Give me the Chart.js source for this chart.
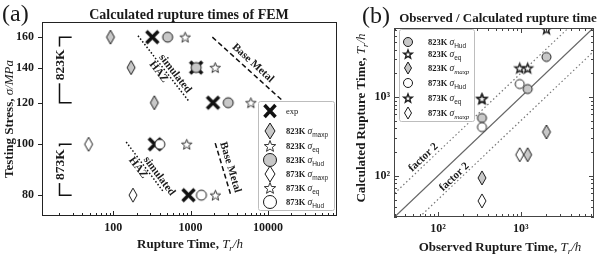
<!DOCTYPE html>
<html>
<head>
<meta charset="utf-8">
<script src="https://cdn.jsdelivr.net/npm/chart.js@4.4.0/dist/chart.umd.min.js"></script>
<style>
  body { margin: 0; background: #fff; width: 601px; height: 256px; position: relative; overflow: hidden; }
  canvas { position: absolute; top: 0; }
  #chart-a { left: 0; }
  #chart-b { left: 345px; }
</style>
</head>
<body>
<canvas id="chart-a" width="345" height="256"></canvas>
<canvas id="chart-b" width="256" height="256"></canvas>
<script>
// ---- panel (a): rupture time vs testing stress ----
var stress823 = [160, 140, 120];
var stress873 = [100, 80];
var exp823 = [320, 1180, 1950];
var exp873 = [345, 940];
var maxp823 = [92, 170, 340];
var eq823 = [850, 2080, 6000];
var hud823 = [505, 1180, 3060];
var maxp873 = [48, 180];
var eq873 = [890, 2090];
var hud873 = [400, 1380];

var stressTicks = [80, 100, 120, 140, 160];
var timeLabelsA = [100, 1000, 10000];

// ---- panel (b): observed vs calculated ----
var obs823 = [340, 1210, 2040];
var obs873 = [340, 970];
var calcHud823 = [540, 1260, 3220];
var calcEq823 = [950, 2330, 7300];
var calcMaxp823 = [94, 185, 360];
var calcHud873 = [415, 1460];
var calcEq873 = [950, 2330];
var calcMaxp873 = [48, 185];

var timeLabelsB = [100, 1000];

function decadeTicks(from, to) {
  var out = [];
  for (var d = 1; d <= 100000; d *= 10) {
    for (var k = 1; k < 10; k++) {
      var v = k * d;
      if (v >= from && v <= to) out.push(v);
    }
  }
  return out;
}
var timeTicksA = decadeTicks(20, 70000);
var timeTicksB = decadeTicks(30, 7000);

var SERIF = "'Liberation Serif', 'Times New Roman', serif";
var SANS = "'Liberation Sans', Arial, sans-serif";
var ink = '#1a1a1a';
var gray = '#c8c8c8';

function drawMarker(ctx, kind, x, y, w, h, fill, stroke, lw) {
  ctx.save();
  ctx.beginPath();
  if (kind === 'circle') {
    ctx.ellipse(x, y, w / 2, h / 2, 0, 0, Math.PI * 2);
  } else if (kind === 'diamond') {
    ctx.moveTo(x, y - h / 2); ctx.lineTo(x + w / 2, y);
    ctx.lineTo(x, y + h / 2); ctx.lineTo(x - w / 2, y); ctx.closePath();
  } else if (kind === 'star') {
    for (var i = 0; i < 10; i++) {
      var r = i % 2 ? w / 2 * 0.42 : w / 2;
      var an = -Math.PI / 2 + i * Math.PI / 5;
      ctx.lineTo(x + r * Math.cos(an), y + 0.5 + r * Math.sin(an));
    }
    ctx.closePath();
  } else if (kind === 'cross') {
    ctx.moveTo(x - w / 2, y - h / 2); ctx.lineTo(x + w / 2, y + h / 2);
    ctx.moveTo(x + w / 2, y - h / 2); ctx.lineTo(x - w / 2, y + h / 2);
  }
  if (fill) { ctx.fillStyle = fill; ctx.fill(); }
  ctx.strokeStyle = stroke; ctx.lineWidth = lw; ctx.stroke();
  ctx.restore();
}

function markerImg(kind, w, h, fill, stroke, lw) {
  var c = document.createElement('canvas');
  c.width = Math.ceil(w + lw * 2 + 2);
  c.height = Math.ceil(h + lw * 2 + 2);
  drawMarker(c.getContext('2d'), kind, c.width / 2, c.height / 2, w, h, fill, stroke, lw);
  return c;
}

function pts(xs, ys) {
  return xs.map(function(x, i) { return { x: x, y: ys[i] }; });
}

function marks(data, img, order) {
  return { data: data, pointStyle: img, pointRadius: 6, showLine: false, order: order };
}

function guide(p0, p1, dash, color, w) {
  return { data: [p0, p1], showLine: true, pointRadius: 0, borderColor: color,
           borderWidth: w, borderDash: dash, fill: false, order: 10 };
}

function rich(ctx, parts, x, y, rot) {
  ctx.save();
  ctx.translate(x, y);
  ctx.rotate(rot || 0);
  ctx.textBaseline = 'alphabetic';
  ctx.textAlign = 'left';
  var total = 0;
  parts.forEach(function(p) { ctx.font = p[1]; total += ctx.measureText(p[0]).width; });
  var cx = -total / 2;
  parts.forEach(function(p) {
    ctx.font = p[1];
    ctx.fillStyle = ink;
    ctx.fillText(p[0], cx, p[2] || 0);
    cx += ctx.measureText(p[0]).width;
  });
  ctx.restore();
}

function richLeft(ctx, parts, x, y) {
  var cx = x;
  ctx.textBaseline = 'alphabetic';
  ctx.textAlign = 'left';
  parts.forEach(function(p) {
    ctx.font = p[1];
    ctx.fillStyle = ink;
    ctx.fillText(p[0], cx, y + (p[2] || 0));
    cx += ctx.measureText(p[0]).width;
  });
}

function line(ctx, x0, y0, x1, y1) {
  ctx.beginPath(); ctx.moveTo(x0, y0); ctx.lineTo(x1, y1); ctx.stroke();
}

// text placed along a guide line given in data coordinates
function lineLabel(chart, p0, p1, t, off, text, font) {
  var sx = chart.scales.x, sy = chart.scales.y, ctx = chart.ctx;
  var x0 = sx.getPixelForValue(p0.x), y0 = sy.getPixelForValue(p0.y);
  var x1 = sx.getPixelForValue(p1.x), y1 = sy.getPixelForValue(p1.y);
  var dx = x1 - x0, dy = y1 - y0, len = Math.sqrt(dx * dx + dy * dy);
  var nx = dy / len, ny = -dx / len;
  var cx = x0 + dx * t + nx * off, cy = y0 + dy * t + ny * off;
  ctx.save();
  ctx.translate(cx, cy);
  ctx.rotate(Math.atan2(dy, dx));
  ctx.font = font;
  ctx.fillStyle = ink;
  ctx.textAlign = 'center';
  ctx.textBaseline = 'middle';
  ctx.fillText(text, 0, 0);
  ctx.restore();
}

function legendBox(ctx, x0, y0, x1, y1, rows, mx, tx) {
  ctx.save();
  ctx.fillStyle = '#fff';
  ctx.strokeStyle = '#bdbdbd';
  ctx.lineWidth = 1;
  ctx.beginPath();
  ctx.roundRect(x0 + 0.5, y0 + 0.5, x1 - x0, y1 - y0, 2);
  ctx.fill(); ctx.stroke();
  rows.forEach(function(r) {
    drawMarker(ctx, r.kind, mx, r.y, r.w, r.h, r.fill, r.stroke, r.lw);
    richLeft(ctx, r.parts, tx, r.y + 3);
  });
  ctx.restore();
}

function legendText(temp, sub, subItalic) {
  return [[temp + ' ', 'bold 8.5px ' + SERIF], ['σ', 'italic 9.5px ' + SERIF],
          [sub, (subItalic ? 'italic 7px ' + SERIF : '6.5px ' + SANS), 2.5]];
}

// ---- guide lines for panel (a) ----
var hazTop = [{ x: 209, y: 161 }, { x: 940, y: 121 }];
var hazLow = [{ x: 147, y: 101 }, { x: 450, y: 81 }];
var baseTop = [{ x: 1910, y: 160 }, { x: 15500, y: 121 }];
var baseLow = [{ x: 2080, y: 100.5 }, { x: 3270, y: 80.5 }];
var brackets = [{ t: '823K', hi: 160, lo: 120 }, { t: '873K', hi: 100, lo: 80 }];
var bracketX = 20, bracketTip = 29;

var mA = {
  cross: markerImg('cross', 12, 12, null, '#111', 3.5),
  dia823: markerImg('diamond', 8, 14, gray, ink, 1),
  dia873: markerImg('diamond', 8, 14, '#fff', ink, 1),
  star: markerImg('star', 11, 11, '#fff', '#333', 1),
  circ823: markerImg('circle', 10, 10, gray, ink, 1),
  circ873: markerImg('circle', 10, 10, '#fff', ink, 1)
};

var annotateA = {
  id: 'annotateA',
  afterDraw: function(chart) {
    var ctx = chart.ctx, a = chart.chartArea, sx = chart.scales.x, sy = chart.scales.y;
    ctx.save();
    ctx.strokeStyle = '#222';
    ctx.lineWidth = 1;
    ctx.strokeRect(Math.round(a.left) + 0.5, Math.round(a.top) + 0.5,
                   Math.round(a.right - a.left) - 1, Math.round(a.bottom - a.top) - 1);
    timeTicksA.forEach(function(v) {
      var px = Math.round(sx.getPixelForValue(v)) + 0.5;
      var len = timeLabelsA.indexOf(v) >= 0 ? 5 : 3;
      line(ctx, px, a.bottom, px, a.bottom - len);
    });
    stressTicks.forEach(function(v) {
      var py = Math.round(sy.getPixelForValue(v)) + 0.5;
      line(ctx, a.left, py, a.left - 4, py);
    });

    // temperature brackets
    brackets.forEach(function(b) {
      var x0 = Math.round(sx.getPixelForValue(bracketX)) + 0.5;
      var x1 = sx.getPixelForValue(bracketTip);
      var yt = sy.getPixelForValue(b.hi), yb = sy.getPixelForValue(b.lo);
      ctx.strokeStyle = '#111';
      ctx.lineWidth = 1.5;
      ctx.beginPath();
      ctx.moveTo(x1, yt); ctx.lineTo(x0, yt); ctx.lineTo(x0, yb); ctx.lineTo(x1, yb);
      ctx.stroke();
      var ym = (yt + yb) / 2 - 5;
      ctx.font = 'bold 13.5px ' + SERIF;
      var w = ctx.measureText(b.t).width;
      ctx.fillStyle = '#fff';
      ctx.fillRect(x0 - 7, ym - w / 2 - 3, 14, w + 6);
      rich(ctx, [[b.t, 'bold 13.5px ' + SERIF]], x0 + 4.5, ym, -Math.PI / 2);
    });

    var f = 'bold 11px ' + SERIF;
    lineLabel(chart, hazTop[0], hazTop[1], 0.64, 6, 'simulated', f);
    lineLabel(chart, hazTop[0], hazTop[1], 0.5, -6, 'HAZ', f);
    lineLabel(chart, hazLow[0], hazLow[1], 0.75, 6, 'simulated', f);
    lineLabel(chart, hazLow[0], hazLow[1], 0.44, -6, 'HAZ', f);
    lineLabel(chart, baseTop[0], baseTop[1], 0.5, 8, 'Base Metal', f);
    lineLabel(chart, baseLow[0], baseLow[1], 0.52, 7.5, 'Base Metal', f);

    legendBox(ctx, 258, 101, 334, 210, [
      { kind: 'cross', w: 11, h: 12, fill: null, stroke: '#111', lw: 3.5, y: 111, parts: [['exp', '8.5px ' + SERIF]] },
      { kind: 'diamond', w: 10, h: 16, fill: gray, stroke: ink, lw: 1, y: 131, parts: legendText('823K', 'maxp') },
      { kind: 'star', w: 12, h: 12, fill: '#fff', stroke: '#333', lw: 1, y: 146, parts: legendText('823K', 'eq') },
      { kind: 'circle', w: 13, h: 13, fill: gray, stroke: ink, lw: 1, y: 160, parts: legendText('823K', 'Hud') },
      { kind: 'diamond', w: 10, h: 16, fill: '#fff', stroke: ink, lw: 1, y: 174, parts: legendText('873K', 'maxp') },
      { kind: 'star', w: 12, h: 12, fill: '#fff', stroke: '#333', lw: 1, y: 188, parts: legendText('873K', 'eq') },
      { kind: 'circle', w: 13, h: 13, fill: '#fff', stroke: ink, lw: 1, y: 202, parts: legendText('873K', 'Hud') }
    ], 270, 286);

    // titles
    ctx.font = '24px ' + SERIF;
    ctx.fillStyle = ink;
    ctx.textAlign = 'left';
    ctx.textBaseline = 'alphabetic';
    ctx.fillText('(a)', 2, 21);
    rich(ctx, [['Calculated rupture times of FEM', 'bold 14px ' + SERIF]], 189, 18.5);
    rich(ctx, [['Testing Stress, ', 'bold 13px ' + SERIF], ['σ/MPa', 'italic 13px ' + SERIF]], 12.5, 119, -Math.PI / 2);
    rich(ctx, [['Rupture Time, ', 'bold 13px ' + SERIF], ['T', 'italic 13px ' + SERIF],
               ['r', 'italic 9px ' + SERIF, 3], ['/h', 'italic 13px ' + SERIF]], 190, 248);
    ctx.restore();
  }
};

var tickFont = { family: SERIF, size: 12, weight: 'bold' };

var configA = {
  type: 'scatter',
  data: {
    datasets: [
      marks(pts(maxp823, stress823), mA.dia823, 1),
      marks(pts(eq823, stress823), mA.star, 1),
      marks(pts(maxp873, stress873), mA.dia873, 1),
      marks(pts(eq873, stress873), mA.star, 1),
      marks(pts(exp823, stress823), mA.cross, 2),
      marks(pts(exp873, stress873), mA.cross, 2),
      marks(pts(hud823, stress823), mA.circ823, 0),
      marks(pts(hud873, stress873), mA.circ873, 0),
      guide(hazTop[0], hazTop[1], [1.5, 2], '#111', 1.5),
      guide(hazLow[0], hazLow[1], [1.5, 2], '#111', 1.5),
      guide(baseTop[0], baseTop[1], [5, 3], '#111', 1.5),
      guide(baseLow[0], baseLow[1], [5, 3], '#111', 1.5)
    ]
  },
  options: {
    responsive: false,
    animation: false,
    events: [],
    layout: { padding: { top: 22, right: 8, left: 0, bottom: 0 } },
    plugins: { legend: { display: false }, tooltip: { enabled: false } },
    scales: {
      x: {
        type: 'logarithmic', min: 12, max: 78000,
        afterFit: function(s) { s.height = 40; },
        afterBuildTicks: function(s) { s.ticks = timeTicksA.map(function(v) { return { value: v }; }); },
        grid: { display: false, drawTicks: false },
        border: { display: false },
        ticks: {
          autoSkip: false, maxRotation: 0, padding: 5, color: ink, font: tickFont,
          callback: function(v) { return timeLabelsA.indexOf(v) >= 0 ? String(v) : ''; }
        }
      },
      y: {
        type: 'logarithmic', min: 73, max: 171,
        afterFit: function(s) { s.width = 42; },
        afterBuildTicks: function(s) { s.ticks = stressTicks.map(function(v) { return { value: v }; }); },
        grid: { display: false, drawTicks: false },
        border: { display: false },
        ticks: {
          autoSkip: false, padding: 8, color: ink, font: tickFont,
          callback: function(v) { return String(v); }
        }
      }
    }
  },
  plugins: [annotateA]
};

// ---- panel (b) ----
var unity = [{ x: 30, y: 30 }, { x: 7500, y: 7500 }];
var twiceUp = [{ x: 30, y: 60 }, { x: 3750, y: 7500 }];
var twiceDown = [{ x: 60, y: 30 }, { x: 7500, y: 3750 }];

var mB = {
  dia823: markerImg('diamond', 8, 14, gray, ink, 1),
  dia873: markerImg('diamond', 8, 14, '#fff', ink, 1),
  star: markerImg('star', 10, 10, '#fff', '#222', 1.4),
  circ823: markerImg('circle', 9, 9, gray, ink, 1),
  circ873: markerImg('circle', 9, 9, '#fff', ink, 1)
};

var annotateB = {
  id: 'annotateB',
  afterDraw: function(chart) {
    var ctx = chart.ctx, a = chart.chartArea, sx = chart.scales.x, sy = chart.scales.y;
    ctx.save();
    ctx.strokeStyle = '#444';
    ctx.lineWidth = 1;
    ctx.strokeRect(Math.round(a.left) + 0.5, Math.round(a.top) + 0.5,
                   Math.round(a.right - a.left) - 1, Math.round(a.bottom - a.top) - 1);
    timeTicksB.forEach(function(v) {
      var len = timeLabelsB.indexOf(v) >= 0 ? 5 : 3;
      var px = Math.round(sx.getPixelForValue(v)) + 0.5;
      line(ctx, px, a.bottom, px, a.bottom - len);
      line(ctx, px, a.top, px, a.top + len);
      var py = Math.round(sy.getPixelForValue(v)) + 0.5;
      line(ctx, a.left, py, a.left + len, py);
      line(ctx, a.right, py, a.right - len, py);
    });

    var f = 'bold 11px ' + SERIF;
    lineLabel(chart, twiceUp[0], twiceUp[1], 0.19, 6, 'factor 2', f);
    lineLabel(chart, twiceDown[0], twiceDown[1], 0.22, 5, 'factor 2', f);

    legendBox(ctx, 54, 29, 129, 121, [
      { kind: 'circle', w: 9, h: 9, fill: gray, stroke: ink, lw: 1, y: 42, parts: legendText('823K', 'Hud') },
      { kind: 'star', w: 9, h: 9, fill: '#fff', stroke: '#222', lw: 1.4, y: 54, parts: legendText('823K', 'eq') },
      { kind: 'diamond', w: 7, h: 12, fill: gray, stroke: ink, lw: 1, y: 68, parts: legendText('823K', 'maxp', true) },
      { kind: 'circle', w: 9, h: 9, fill: '#fff', stroke: ink, lw: 1, y: 83, parts: legendText('873K', 'Hud') },
      { kind: 'star', w: 9, h: 9, fill: '#fff', stroke: '#222', lw: 1.4, y: 98, parts: legendText('873K', 'eq') },
      { kind: 'diamond', w: 7, h: 12, fill: '#fff', stroke: ink, lw: 1, y: 113, parts: legendText('873K', 'maxp', true) }
    ], 63, 83);

    ctx.font = '24px ' + SERIF;
    ctx.fillStyle = ink;
    ctx.textAlign = 'left';
    ctx.textBaseline = 'alphabetic';
    ctx.fillText('(b)', 17, 23);
    rich(ctx, [['Observed / Calculated rupture time', 'bold 13px ' + SERIF]], 153, 22);
    rich(ctx, [['Calculated Rupture Time, ', 'bold 13px ' + SERIF], ['T', 'italic 13px ' + SERIF],
               ['r', 'italic 9px ' + SERIF, 3], ['/h', 'italic 13px ' + SERIF]], 19.5, 118, -Math.PI / 2);
    rich(ctx, [['Observed Rupture Time, ', 'bold 13px ' + SERIF], ['T', 'italic 13px ' + SERIF],
               ['r', 'italic 9px ' + SERIF, 3], ['/h', 'italic 13px ' + SERIF]], 155, 251);
    ctx.restore();
  }
};

var supLabel = function(v) { return v === 100 ? '10²' : (v === 1000 ? '10³' : ''); };

var configB = {
  type: 'scatter',
  data: {
    datasets: [
      marks(pts(obs823, calcMaxp823), mB.dia823, 1),
      marks(pts(obs873, calcMaxp873), mB.dia873, 1),
      marks(pts(obs823, calcEq823), mB.star, 1),
      marks(pts(obs873, calcEq873), mB.star, 1),
      marks(pts(obs873, calcHud873), mB.circ873, 0),
      marks(pts(obs823, calcHud823), mB.circ823, 0),
      guide(unity[0], unity[1], [], '#666', 1.2),
      guide(twiceUp[0], twiceUp[1], [1.5, 2.5], '#777', 1.2),
      guide(twiceDown[0], twiceDown[1], [1.5, 2.5], '#777', 1.2)
    ]
  },
  options: {
    responsive: false,
    animation: false,
    events: [],
    layout: { padding: { top: 28, right: 2, left: 0, bottom: 0 } },
    plugins: { legend: { display: false }, tooltip: { enabled: false } },
    scales: {
      x: {
        type: 'logarithmic', min: 29.5, max: 7650,
        afterFit: function(s) { s.height = 39; },
        afterBuildTicks: function(s) { s.ticks = timeTicksB.map(function(v) { return { value: v }; }); },
        grid: { display: false, drawTicks: false },
        border: { display: false },
        ticks: { autoSkip: false, maxRotation: 0, padding: 5, color: ink, font: tickFont, callback: supLabel }
      },
      y: {
        type: 'logarithmic', min: 30, max: 7500,
        afterFit: function(s) { s.width = 49; },
        afterBuildTicks: function(s) { s.ticks = timeTicksB.map(function(v) { return { value: v }; }); },
        grid: { display: false, drawTicks: false },
        border: { display: false },
        ticks: { autoSkip: false, padding: 4, color: ink, font: tickFont, callback: supLabel }
      }
    }
  },
  plugins: [annotateB]
};

window.chartA = new Chart(document.getElementById('chart-a').getContext('2d'), configA);
window.chartB = new Chart(document.getElementById('chart-b').getContext('2d'), configB);
</script>
</body>
</html>
